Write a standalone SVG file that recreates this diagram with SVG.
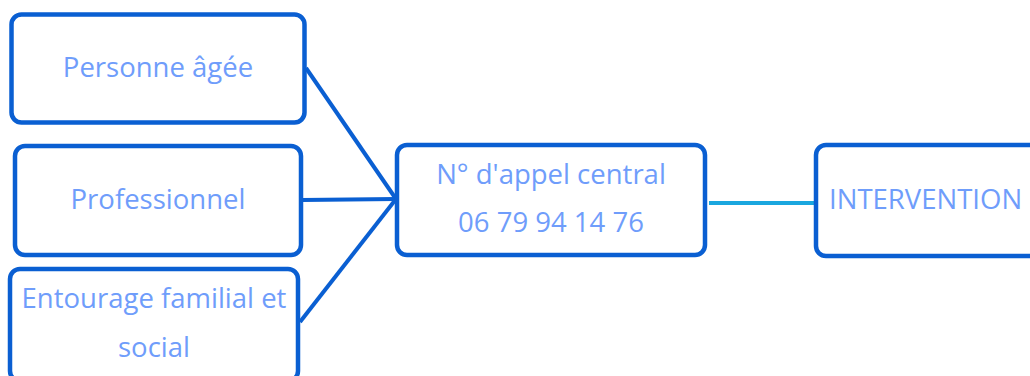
<svg xmlns="http://www.w3.org/2000/svg" width="1030" height="376" viewBox="0 0 1030 376">
  <style>
    .box { fill: #ffffff; stroke: #0a5fd2; stroke-width: 4.5; }
    .lbl { font-family: "Open Sans", "Liberation Sans", sans-serif; font-size: 27.5px; fill: #6f9dfb; text-anchor: middle; }
    .link { stroke: #0a5fd2; stroke-width: 4; fill: none; }
    .link2 { stroke: #1aa7df; stroke-width: 4; fill: none; }
  </style>
  <rect width="1030" height="376" fill="#ffffff"/>

  <g id="connectors">
    <line class="link" x1="306" y1="68" x2="396" y2="199"/>
    <line class="link" x1="302" y1="200" x2="396" y2="199"/>
    <line class="link" x1="300" y1="322" x2="396" y2="199"/>
    <line class="link2" x1="709" y1="203" x2="816" y2="203"/>
  </g>

  <g id="personne-agee">
    <rect class="box" x="11.5" y="14.5" width="293" height="108" rx="10"/>
    <text class="lbl" x="158" y="77">Personne âgée</text>
  </g>

  <g id="professionnel">
    <rect class="box" x="15" y="146" width="286" height="109" rx="10"/>
    <text class="lbl" x="158" y="209">Professionnel</text>
  </g>

  <g id="entourage">
    <rect class="box" x="10" y="269" width="288" height="112" rx="10"/>
    <text class="lbl" x="154" y="308">Entourage familial et</text>
    <text class="lbl" x="154" y="357">social</text>
  </g>

  <g id="appel-central">
    <rect class="box" x="397" y="145" width="308" height="110" rx="10"/>
    <text class="lbl" x="551" y="184">N° d'appel central</text>
    <text class="lbl" x="551" y="232">06 79 94 14 76</text>
  </g>

  <g id="intervention">
    <rect class="box" x="816" y="145" width="240" height="111" rx="10"/>
    <text class="lbl" x="829" y="209" style="text-anchor: start">INTERVENTION</text>
  </g>
</svg>
